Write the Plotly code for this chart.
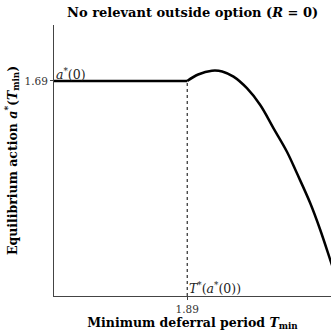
import plotly.graph_objects as go

# Data
flat_x = [0.0, 1.89]
flat_y = [1.69, 1.69]
curve_x = [1.89, 2.045, 2.24, 2.386, 2.547, 2.737, 2.926, 3.115, 3.305, 3.447, 3.636, 3.778, 3.92, 4.0]
curve_y = [1.69, 1.741, 1.771, 1.765, 1.724, 1.633, 1.501, 1.318, 1.134, 0.964, 0.729, 0.519, 0.283, 0.15]
x_ticks = [1.89]
y_ticks = [1.69]
t_star = 1.89
a_star = 1.69

FONT = "DejaVu Serif"

fig = go.Figure()
fig.add_trace(go.Scatter(x=[t_star, t_star], y=[0, a_star], mode="lines",
                         line=dict(color="black", width=1, dash="dot"), showlegend=False))
fig.add_trace(go.Scatter(x=flat_x, y=flat_y, mode="lines",
                         line=dict(color="black", width=2.5), showlegend=False))
fig.add_trace(go.Scatter(x=curve_x, y=curve_y, mode="lines", line_shape="spline",
                         line=dict(color="black", width=2.5), showlegend=False))

fig.add_annotation(x=0, y=a_star, xref="x", yref="y", text="<i>a</i><sup>*</sup>(0)",
                   showarrow=False, xanchor="left", yanchor="bottom", xshift=0, yshift=-3,
                   font=dict(family=FONT, size=12.5, color="#222"))
fig.add_annotation(x=t_star, y=0, xref="x", yref="y", text="<i>T</i><sup>*</sup>(<i>a</i><sup>*</sup>(0))",
                   showarrow=False, xanchor="left", yanchor="bottom", xshift=0, yshift=-2,
                   font=dict(family=FONT, size=12.5, color="#222"))

fig.update_layout(
    width=331, height=335,
    margin=dict(l=54, r=0, t=25, b=39),
    plot_bgcolor="white", paper_bgcolor="white",
    title=dict(text="<b>No relevant outside option (<i>R</i> = 0)</b>", x=0.582, xanchor="center",
               y=0.975, yanchor="top", font=dict(family=FONT, size=13, color="black")),
    xaxis=dict(range=[0, 3.93], showgrid=False, zeroline=False, showline=True, linecolor="#444",
               linewidth=1, tickvals=x_ticks, ticktext=["1.89"], ticks="outside", ticklen=3,
               tickcolor="#444", tickfont=dict(family=FONT, size=10.5, color="#333"),
               title=dict(text="<b>Minimum deferral period <i>T</i><sub>min</sub></b>", standoff=4,
                          font=dict(family=FONT, size=12.5, color="black"))),
    yaxis=dict(range=[0, 2.13], showgrid=False, zeroline=False, showline=True, linecolor="#444",
               linewidth=1, tickvals=y_ticks, ticktext=["1.69"], ticks="outside", ticklen=3,
               tickcolor="#444", tickfont=dict(family=FONT, size=10.5, color="#333"),
               title=dict(text="<b>Equilibrium action <i>a</i><sup>*</sup>(<i>T</i><sub>min</sub>)</b>", standoff=4,
                          font=dict(family=FONT, size=12.5, color="black"))),
)

fig.write_html("out.html")
